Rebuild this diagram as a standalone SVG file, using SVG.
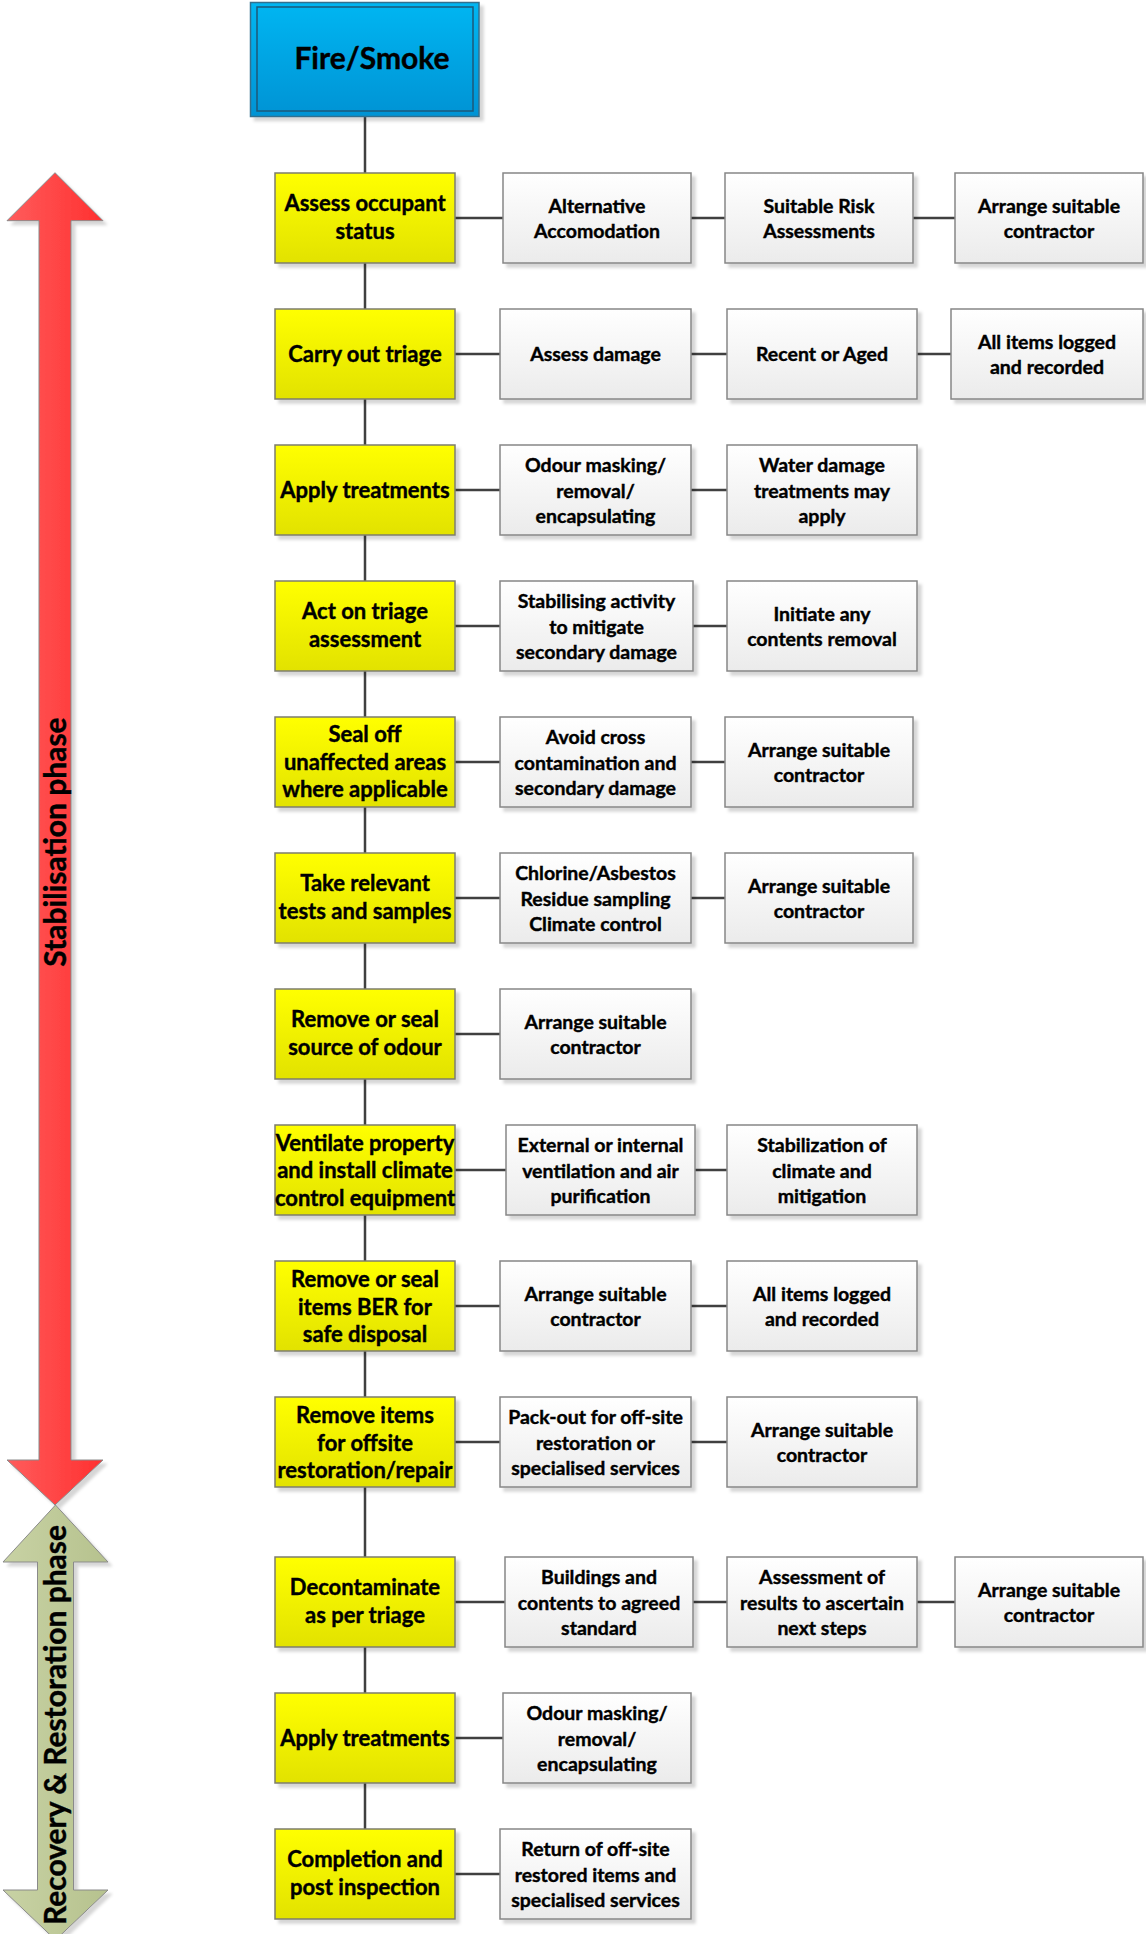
<svg xmlns="http://www.w3.org/2000/svg" width="1146" height="1934" viewBox="0 0 1146 1934">
  <defs>
    <linearGradient id="gYellow" x1="0" y1="0" x2="0" y2="1">
      <stop offset="0" stop-color="#ffff00"/>
      <stop offset="1" stop-color="#e2e200"/>
    </linearGradient>
    <linearGradient id="gGrey" x1="0" y1="0" x2="0" y2="1">
      <stop offset="0" stop-color="#ffffff"/>
      <stop offset="1" stop-color="#ebebeb"/>
    </linearGradient>
    <linearGradient id="gBlue" x1="0" y1="0" x2="0" y2="1">
      <stop offset="0" stop-color="#00b6f2"/>
      <stop offset="1" stop-color="#0093d4"/>
    </linearGradient>
    <linearGradient id="gRed" x1="0" y1="0" x2="1" y2="0">
      <stop offset="0" stop-color="#ff5c5c"/>
      <stop offset="1" stop-color="#ff3030"/>
    </linearGradient>
    <linearGradient id="gGreen" x1="0" y1="0" x2="1" y2="0">
      <stop offset="0" stop-color="#c8d2a4"/>
      <stop offset="1" stop-color="#b6c28e"/>
    </linearGradient>
    <filter id="shadow" x="-10%" y="-10%" width="130%" height="130%">
      <feDropShadow dx="4" dy="4" stdDeviation="1.5" flood-color="#000" flood-opacity="0.16"/>
    </filter>
  </defs>
  <style>
    .step { fill: url(#gYellow); stroke: #7d7d6c; stroke-width: 1.5; filter: url(#shadow); }
    .task { fill: url(#gGrey); stroke: #878787; stroke-width: 1.5; filter: url(#shadow); }
    .link { stroke: #404040; stroke-width: 2.5; fill: none; }
    .lbl { font-family: Lato, "Open Sans", sans-serif; font-weight: bold; text-anchor: middle; fill: #000; stroke: #000; stroke-width: 0.4; }
    .ls { font-size: 22px; }
    .lt { font-size: 19.5px; }
    .phase { font-family: Lato, "Open Sans", sans-serif; font-weight: bold; font-size: 30px; text-anchor: middle; fill: #000; stroke: #000; stroke-width: 0.4; }
    .arrow { stroke: #8a8a8a; stroke-width: 1; filter: url(#shadow); }
  </style>

  <!-- phase arrows -->
  <g id="stabilisation-arrow">
    <path class="arrow" fill="url(#gRed)" d="M55,172.7 L103,220.7 L71,220.7 L71,1460 L103,1460 L55,1505 L7,1460 L39,1460 L39,220.7 L7,220.7 Z"/>
    <text class="phase" transform="translate(66,842) rotate(-90)">Stabilisation phase</text>
  </g>
  <g id="recovery-arrow">
    <path class="arrow" fill="url(#gGreen)" d="M55.5,1505 L108,1562 L73.5,1562 L73.5,1890 L108,1890 L55.5,1940 L3,1890 L37.5,1890 L37.5,1562 L3,1562 Z"/>
    <text class="phase" transform="translate(66,1725) rotate(-90)">Recovery &amp; Restoration phase</text>
  </g>

  <!-- connectors -->
  <g id="connectors" class="link">
    <!-- main spine -->
    <path d="M365,117 V173 M365,263 V309 M365,399 V445 M365,535 V581 M365,671 V717 M365,807 V853 M365,943 V989 M365,1079 V1125 M365,1215 V1261 M365,1351 V1397 M365,1487 V1557 M365,1647 V1693 M365,1783 V1829"/>
    <!-- branches -->
    <path d="M455,218 H503 M691,218 H725 M913,218 H955"/>
    <path d="M455,354 H500 M691,354 H727 M917,354 H951"/>
    <path d="M455,490 H500 M691,490 H727"/>
    <path d="M455,626 H500 M693,626 H727"/>
    <path d="M455,762 H500 M691,762 H725"/>
    <path d="M455,898 H500 M691,898 H725"/>
    <path d="M455,1034 H500"/>
    <path d="M455,1170 H506 M695,1170 H727"/>
    <path d="M455,1306 H500 M691,1306 H727"/>
    <path d="M455,1442 H500 M691,1442 H727"/>
    <path d="M455,1602 H505 M693,1602 H727 M917,1602 H955"/>
    <path d="M455,1738 H503"/>
    <path d="M455,1874 H500"/>
  </g>

  <!-- start node -->
  <g id="fire-smoke">
    <rect x="250.5" y="2.5" width="228.5" height="114" fill="url(#gBlue)" stroke="#33708f" stroke-width="1.5" filter="url(#shadow)"/>
    <rect x="257" y="7" width="216" height="104" fill="none" stroke="#1d5878" stroke-width="1.5"/>
    <text class="lbl" x="372" y="69" font-size="30">Fire/Smoke</text>
  </g>

  <!-- row 1 -->
  <g id="assess-occupant">
    <rect class="step" x="275" y="173" width="180" height="90"/>
    <text class="lbl ls" x="365"><tspan x="365" y="211">Assess occupant</tspan><tspan x="365" y="239">status</tspan></text>
  </g>
  <g id="alt-accommodation">
    <rect class="task" x="503" y="173" width="188" height="90"/>
    <text class="lbl lt" x="597"><tspan x="597" y="213">Alternative</tspan><tspan x="597" y="238">Accomodation</tspan></text>
  </g>
  <g id="risk-assessments">
    <rect class="task" x="725" y="173" width="188" height="90"/>
    <text class="lbl lt" x="819"><tspan x="819" y="213">Suitable Risk</tspan><tspan x="819" y="238">Assessments</tspan></text>
  </g>
  <g id="contractor-1">
    <rect class="task" x="955" y="173" width="188" height="90"/>
    <text class="lbl lt" x="1049"><tspan x="1049" y="213">Arrange suitable</tspan><tspan x="1049" y="238">contractor</tspan></text>
  </g>

  <!-- row 2 -->
  <g id="triage">
    <rect class="step" x="275" y="309" width="180" height="90"/>
    <text class="lbl ls" x="365" y="361.5">Carry out triage</text>
  </g>
  <g id="assess-damage">
    <rect class="task" x="500" y="309" width="191" height="90"/>
    <text class="lbl lt" x="595.5" y="361">Assess damage</text>
  </g>
  <g id="recent-aged">
    <rect class="task" x="727" y="309" width="190" height="90"/>
    <text class="lbl lt" x="822" y="361">Recent or Aged</text>
  </g>
  <g id="logged-1">
    <rect class="task" x="951" y="309" width="192" height="90"/>
    <text class="lbl lt" x="1047"><tspan x="1047" y="349">All items logged</tspan><tspan x="1047" y="374">and recorded</tspan></text>
  </g>

  <!-- row 3 -->
  <g id="apply-treatments-1">
    <rect class="step" x="275" y="445" width="180" height="90"/>
    <text class="lbl ls" x="365" y="497.5">Apply treatments</text>
  </g>
  <g id="odour-masking-1">
    <rect class="task" x="500" y="445" width="191" height="90"/>
    <text class="lbl lt" x="595.5"><tspan x="595.5" y="472">Odour masking/</tspan><tspan x="595.5" y="497.5">removal/</tspan><tspan x="595.5" y="523">encapsulating</tspan></text>
  </g>
  <g id="water-damage">
    <rect class="task" x="727" y="445" width="190" height="90"/>
    <text class="lbl lt" x="822"><tspan x="822" y="472">Water damage</tspan><tspan x="822" y="497.5">treatments may</tspan><tspan x="822" y="523">apply</tspan></text>
  </g>

  <!-- row 4 -->
  <g id="act-on-triage">
    <rect class="step" x="275" y="581" width="180" height="90"/>
    <text class="lbl ls" x="365"><tspan x="365" y="619">Act on triage</tspan><tspan x="365" y="647">assessment</tspan></text>
  </g>
  <g id="stabilising-activity">
    <rect class="task" x="500" y="581" width="193" height="90"/>
    <text class="lbl lt" x="596.5"><tspan x="596.5" y="608">Stabilising activity</tspan><tspan x="596.5" y="633.5">to mitigate</tspan><tspan x="596.5" y="659">secondary damage</tspan></text>
  </g>
  <g id="contents-removal">
    <rect class="task" x="727" y="581" width="190" height="90"/>
    <text class="lbl lt" x="822"><tspan x="822" y="621">Initiate any</tspan><tspan x="822" y="646">contents removal</tspan></text>
  </g>

  <!-- row 5 -->
  <g id="seal-off">
    <rect class="step" x="275" y="717" width="180" height="90"/>
    <text class="lbl ls" x="365"><tspan x="365" y="742">Seal off</tspan><tspan x="365" y="769.5">unaffected areas</tspan><tspan x="365" y="797">where applicable</tspan></text>
  </g>
  <g id="avoid-cross">
    <rect class="task" x="500" y="717" width="191" height="90"/>
    <text class="lbl lt" x="595.5"><tspan x="595.5" y="744">Avoid cross</tspan><tspan x="595.5" y="769.5">contamination and</tspan><tspan x="595.5" y="795">secondary damage</tspan></text>
  </g>
  <g id="contractor-5">
    <rect class="task" x="725" y="717" width="188" height="90"/>
    <text class="lbl lt" x="819"><tspan x="819" y="757">Arrange suitable</tspan><tspan x="819" y="782">contractor</tspan></text>
  </g>

  <!-- row 6 -->
  <g id="tests-samples">
    <rect class="step" x="275" y="853" width="180" height="90"/>
    <text class="lbl ls" x="365"><tspan x="365" y="891">Take relevant</tspan><tspan x="365" y="919">tests and samples</tspan></text>
  </g>
  <g id="chlorine-asbestos">
    <rect class="task" x="500" y="853" width="191" height="90"/>
    <text class="lbl lt" x="595.5"><tspan x="595.5" y="880">Chlorine/Asbestos</tspan><tspan x="595.5" y="905.5">Residue sampling</tspan><tspan x="595.5" y="931">Climate control</tspan></text>
  </g>
  <g id="contractor-6">
    <rect class="task" x="725" y="853" width="188" height="90"/>
    <text class="lbl lt" x="819"><tspan x="819" y="893">Arrange suitable</tspan><tspan x="819" y="918">contractor</tspan></text>
  </g>

  <!-- row 7 -->
  <g id="odour-source">
    <rect class="step" x="275" y="989" width="180" height="90"/>
    <text class="lbl ls" x="365"><tspan x="365" y="1027">Remove or seal</tspan><tspan x="365" y="1055">source of odour</tspan></text>
  </g>
  <g id="contractor-7">
    <rect class="task" x="500" y="989" width="191" height="90"/>
    <text class="lbl lt" x="595.5"><tspan x="595.5" y="1029">Arrange suitable</tspan><tspan x="595.5" y="1054">contractor</tspan></text>
  </g>

  <!-- row 8 -->
  <g id="ventilate">
    <rect class="step" x="275" y="1125" width="180" height="90"/>
    <text class="lbl ls" x="365"><tspan x="365" y="1151">Ventilate property</tspan><tspan x="365" y="1178">and install climate</tspan><tspan x="365" y="1205.5">control equipment</tspan></text>
  </g>
  <g id="ventilation-purification">
    <rect class="task" x="506" y="1125" width="189" height="90"/>
    <text class="lbl lt" x="600.5"><tspan x="600.5" y="1152">External or internal</tspan><tspan x="600.5" y="1177.5">ventilation and air</tspan><tspan x="600.5" y="1203">purification</tspan></text>
  </g>
  <g id="climate-stabilization">
    <rect class="task" x="727" y="1125" width="190" height="90"/>
    <text class="lbl lt" x="822"><tspan x="822" y="1152">Stabilization of</tspan><tspan x="822" y="1177.5">climate and</tspan><tspan x="822" y="1203">mitigation</tspan></text>
  </g>

  <!-- row 9 -->
  <g id="ber-disposal">
    <rect class="step" x="275" y="1261" width="180" height="90"/>
    <text class="lbl ls" x="365"><tspan x="365" y="1287">Remove or seal</tspan><tspan x="365" y="1314.5">items BER for</tspan><tspan x="365" y="1342">safe disposal</tspan></text>
  </g>
  <g id="contractor-9">
    <rect class="task" x="500" y="1261" width="191" height="90"/>
    <text class="lbl lt" x="595.5"><tspan x="595.5" y="1301">Arrange suitable</tspan><tspan x="595.5" y="1326">contractor</tspan></text>
  </g>
  <g id="logged-9">
    <rect class="task" x="727" y="1261" width="190" height="90"/>
    <text class="lbl lt" x="822"><tspan x="822" y="1301">All items logged</tspan><tspan x="822" y="1326">and recorded</tspan></text>
  </g>

  <!-- row 10 -->
  <g id="offsite-removal">
    <rect class="step" x="275" y="1397" width="180" height="90"/>
    <text class="lbl ls" x="365"><tspan x="365" y="1423">Remove items</tspan><tspan x="365" y="1450.5">for offsite</tspan><tspan x="365" y="1478">restoration/repair</tspan></text>
  </g>
  <g id="pack-out">
    <rect class="task" x="500" y="1397" width="191" height="90"/>
    <text class="lbl lt" x="595.5"><tspan x="595.5" y="1424">Pack-out for off-site</tspan><tspan x="595.5" y="1449.5">restoration or</tspan><tspan x="595.5" y="1475">specialised services</tspan></text>
  </g>
  <g id="contractor-10">
    <rect class="task" x="727" y="1397" width="190" height="90"/>
    <text class="lbl lt" x="822"><tspan x="822" y="1437">Arrange suitable</tspan><tspan x="822" y="1462">contractor</tspan></text>
  </g>

  <!-- row 11 -->
  <g id="decontaminate">
    <rect class="step" x="275" y="1557" width="180" height="90"/>
    <text class="lbl ls" x="365"><tspan x="365" y="1595">Decontaminate</tspan><tspan x="365" y="1623">as per triage</tspan></text>
  </g>
  <g id="agreed-standard">
    <rect class="task" x="505" y="1557" width="188" height="90"/>
    <text class="lbl lt" x="599"><tspan x="599" y="1584">Buildings and</tspan><tspan x="599" y="1609.5">contents to agreed</tspan><tspan x="599" y="1635">standard</tspan></text>
  </g>
  <g id="results-assessment">
    <rect class="task" x="727" y="1557" width="190" height="90"/>
    <text class="lbl lt" x="822"><tspan x="822" y="1584">Assessment of</tspan><tspan x="822" y="1609.5">results to ascertain</tspan><tspan x="822" y="1635">next steps</tspan></text>
  </g>
  <g id="contractor-11">
    <rect class="task" x="955" y="1557" width="188" height="90"/>
    <text class="lbl lt" x="1049"><tspan x="1049" y="1597">Arrange suitable</tspan><tspan x="1049" y="1622">contractor</tspan></text>
  </g>

  <!-- row 12 -->
  <g id="apply-treatments-2">
    <rect class="step" x="275" y="1693" width="180" height="90"/>
    <text class="lbl ls" x="365" y="1745.5">Apply treatments</text>
  </g>
  <g id="odour-masking-2">
    <rect class="task" x="503" y="1693" width="188" height="90"/>
    <text class="lbl lt" x="597"><tspan x="597" y="1720">Odour masking/</tspan><tspan x="597" y="1745.5">removal/</tspan><tspan x="597" y="1771">encapsulating</tspan></text>
  </g>

  <!-- row 13 -->
  <g id="completion">
    <rect class="step" x="275" y="1829" width="180" height="90"/>
    <text class="lbl ls" x="365"><tspan x="365" y="1867">Completion and</tspan><tspan x="365" y="1895">post inspection</tspan></text>
  </g>
  <g id="return-items">
    <rect class="task" x="500" y="1829" width="191" height="90"/>
    <text class="lbl lt" x="595.5"><tspan x="595.5" y="1856">Return of off-site</tspan><tspan x="595.5" y="1881.5">restored items and</tspan><tspan x="595.5" y="1907">specialised services</tspan></text>
  </g>
</svg>
